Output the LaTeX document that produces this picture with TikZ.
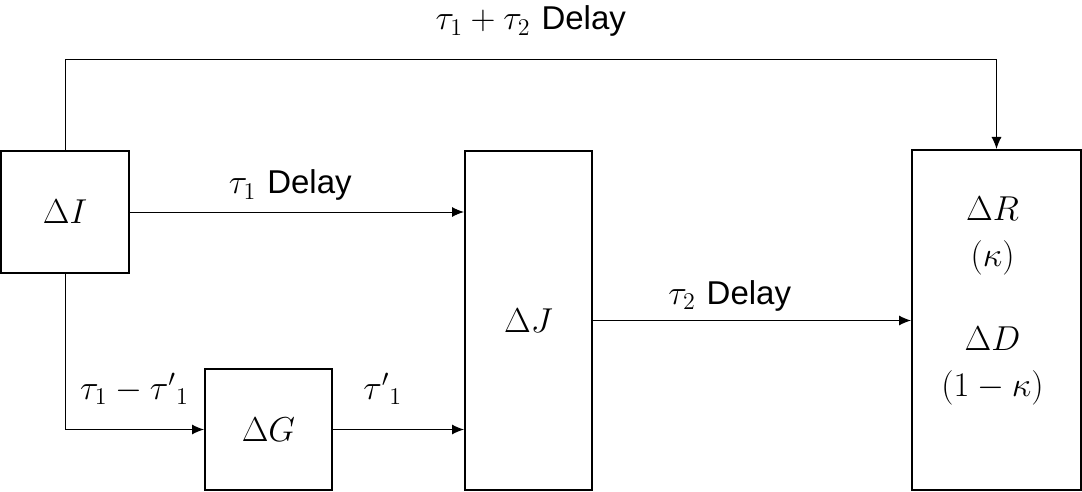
\documentclass[tikz,border=0pt]{standalone}
\usepackage{fontspec}
\setsansfont{Liberation Sans}
\usetikzlibrary{arrows.meta}

\tikzset{
  blk/.style={draw, line width=1pt, inner sep=0pt},
  arr/.style={-{Latex[length=6pt,width=5pt]}, line width=0.5pt},
}
\newcommand{\dly}{\textsf{\fontsize{16.5}{19}\selectfont Delay}}

\begin{document}
\begin{tikzpicture}[x=0.5pt, y=-0.5pt, font=\fontsize{18}{22}\selectfont]
      \useasboundingbox (0,0) rectangle (1082,492);

      \node[blk, minimum width=64pt, minimum height=61pt] (dI) at (65,212) {$\Delta I$};
      \node[blk, minimum width=63.5pt, minimum height=60.5pt] (dG) at (268.5,429.5) {$\Delta G$};
      \node[blk, minimum width=63.5pt, minimum height=169.5pt] (dJ) at (528.5,320.5) {$\Delta J$};
      \node[blk, minimum width=84.5pt, minimum height=170pt] (dR) at (996.5,320) {};
      \node[align=center, inner sep=0pt] (dRtxt) at ([xshift=-2pt, yshift=9.5pt]dR.center)
        {$\Delta R$\\[1pt] $(\kappa)$\\[20pt] $\Delta D$\\[1pt] $(1-\kappa)$};

      \coordinate (topY) at (0,60);

      \draw[arr] (dI.north) -- (dI.north |- topY)
        -- node[above=8pt] (lblTop) {$\tau_1+\tau_2$ \dly} (dR.north |- topY) -- (dR.north);

      \draw[arr] (dI.east) -- node[pos=0.48, above=2pt] (lblIJ) {$\tau_1$ \dly} (dI.east -| dJ.west);

      \draw[arr] (dI.south) -- (dI.south |- dG.west)
        -- node[above=9pt] (lblIG) {$\tau_1-{\tau'}_1$} (dG.west);

      \draw[arr] (dG.east) -- node[pos=0.38, above=9pt] (lblGJ) {${\tau'}_1$} (dG.east -| dJ.west);

      \draw[arr] (dJ.east) -- node[pos=0.43, above=1pt] (lblJR) {$\tau_2$ \dly} (dJ.east -| dR.west);
\end{tikzpicture}
\end{document}
